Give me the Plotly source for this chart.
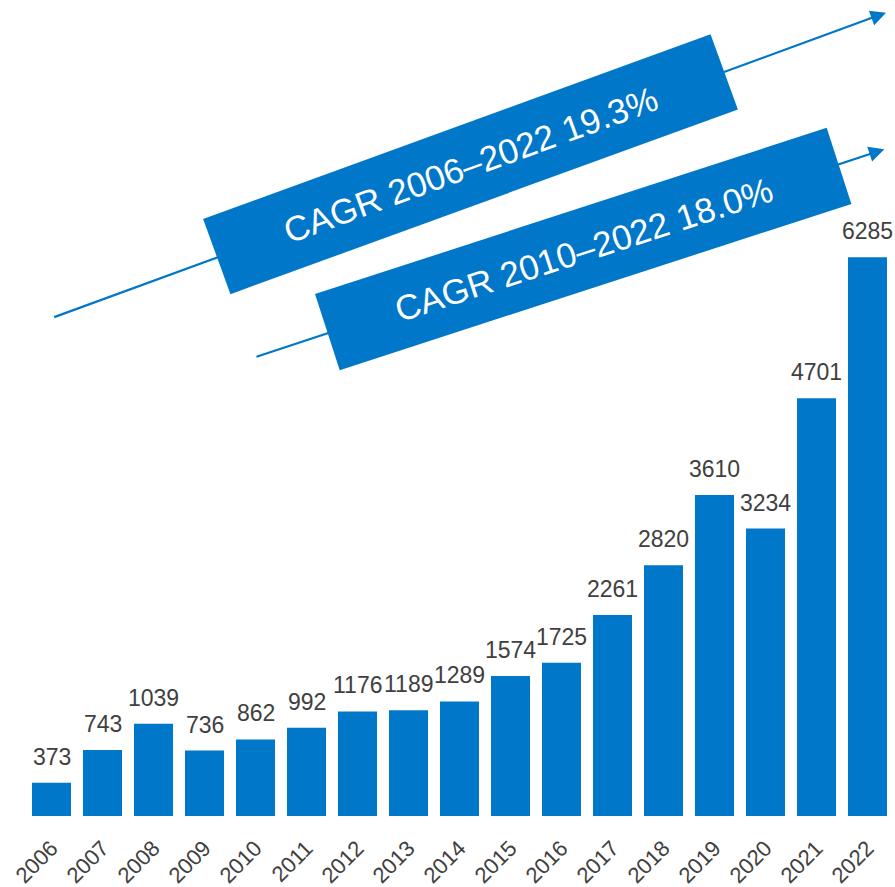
import math
import plotly.graph_objects as go

# ---- data ----
years = ["2006", "2007", "2008", "2009", "2010", "2011", "2012", "2013", "2014",
         "2015", "2016", "2017", "2018", "2019", "2020", "2021", "2022"]
values = [373, 743, 1039, 736, 862, 992, 1176, 1189, 1289,
          1574, 1725, 2261, 2820, 3610, 3234, 4701, 6285]
cagr_labels = ["CAGR 2006\u20132022 19.3%", "CAGR 2010\u20132022 18.0%"]

# ---- style / layout ----
W, H = 895, 887
ML, MR, MT, MB = 26, 2, 16, 71
BLUE = "#0077C8"
GREY = "#404040"
FONT = "Arial, Liberation Sans, sans-serif"

PW = W - ML - MR
PH = H - MT - MB


def px2paper(px, py):
    return (px - ML) / PW, (H - MB - py) / PH


def rot_rect(cx, cy, L, T, ang):
    a = math.radians(ang)
    ux, uy = math.cos(a), -math.sin(a)
    nx, ny = math.sin(a), math.cos(a)
    pts = []
    for s, t in [(-1, -1), (1, -1), (1, 1), (-1, 1)]:
        px = cx + s * L / 2 * ux + t * T / 2 * nx
        py = cy + s * L / 2 * uy + t * T / 2 * ny
        pts.append(px2paper(px, py))
    return "M " + " L ".join(f"{x:.5f},{y:.5f}" for x, y in pts) + " Z"


# decorative CAGR callouts (pixel geometry)
boxes = [
    dict(cx=470.5, cy=164.2, L=540, T=80, ang=20.0, head=(886, 12.7), tail=(52.7, 317.7)),
    dict(cx=583.2, cy=249.0, L=538, T=80, ang=18.0, head=(884.3, 149.3), tail=(255, 357.3)),
]

fig = go.Figure()
fig.add_trace(go.Bar(
    x=years, y=values,
    marker=dict(color=BLUE, line=dict(width=0)),
    hoverinfo="x+y",
))

annotations = []
shapes = []
for b in boxes:
    hx, hy = px2paper(*b["head"])
    annotations.append(dict(
        x=hx, y=hy, xref="paper", yref="paper", text="", showarrow=True,
        ax=b["tail"][0] - b["head"][0], ay=b["tail"][1] - b["head"][1],
        arrowhead=2, arrowsize=1.4, arrowwidth=2.2, arrowcolor=BLUE,
    ))
    shapes.append(dict(type="path", path=rot_rect(b["cx"], b["cy"], b["L"], b["T"], b["ang"]),
                       xref="paper", yref="paper", fillcolor=BLUE, line=dict(width=0),
                       layer="above"))

for b, lab in zip(boxes, cagr_labels):
    cx, cy = px2paper(b["cx"], b["cy"])
    annotations.append(dict(
        x=cx, y=cy, xref="paper", yref="paper", text=lab, showarrow=False,
        textangle=-b["ang"], font=dict(family=FONT, size=35, color="white"),
        xanchor="center", yanchor="middle",
    ))

for i, v in enumerate(values):
    annotations.append(dict(
        x=i, y=v, xref="x", yref="y", text=str(v), showarrow=False,
        yanchor="bottom", yshift=11,
        font=dict(family=FONT, size=23, color=GREY),
    ))

fig.update_layout(
    width=W, height=H,
    margin=dict(l=ML, r=MR, t=MT, b=MB, pad=0, autoexpand=False),
    paper_bgcolor="white", plot_bgcolor="white",
    bargap=0.235,
    showlegend=False,
    xaxis=dict(type="category", range=[-0.5, len(years) - 0.5], tickangle=-45,
               tickfont=dict(family=FONT, size=22, color=GREY),
               ticklabelstandoff=14,
               showgrid=False, zeroline=False, showline=False, ticks="",
               automargin=False),
    yaxis=dict(range=[0, 9000], visible=False, showgrid=False, zeroline=False),
    shapes=shapes,
    annotations=annotations,
)

fig.write_html("out.html", config={"displayModeBar": False},
               post_script="document.body.style.margin='0px';")
